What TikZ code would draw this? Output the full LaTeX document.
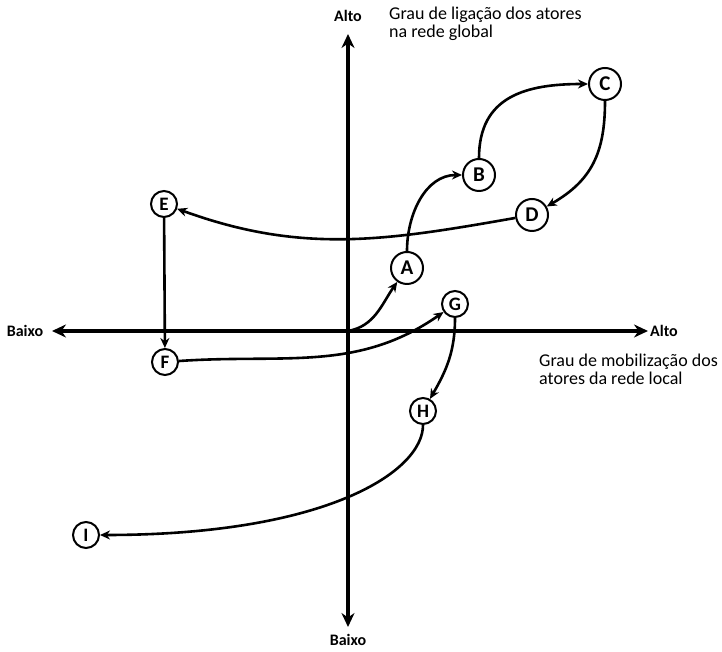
\documentclass[tikz,border=0pt]{standalone}
\usepackage{fontspec}
\setmainfont{Carlito}
\usetikzlibrary{positioning,arrows.meta}

\begin{document}
\begin{tikzpicture}[x=1pt,y=1pt,
  actor/.style={draw,circle,line width=2pt,fill=white,inner sep=0pt,minimum size=32pt,font=\fontsize{21}{21}\selectfont\bfseries},
  small/.style={actor,minimum size=26pt,font=\fontsize{19}{19}\selectfont\bfseries},
  axis/.style={line width=3.4pt,{Stealth[length=14pt,width=13pt]}-{Stealth[length=14pt,width=13pt]}},
  link/.style={line width=2.6pt,-{Stealth[length=10pt,width=9pt]}},
  axlbl/.style={font=\fontsize{16}{16}\selectfont\bfseries},
  lbl/.style={font=\fontsize{18}{18}\selectfont,align=left,anchor=north west,inner sep=0pt}]
\useasboundingbox (0,0) rectangle (722,652);
% axes
\coordinate (o) at (348,321);
\coordinate (top) at (348,618);
\coordinate (bot) at (348,25);
\coordinate (lft) at (52,321);
\coordinate (rgt) at (648,321);
\draw[axis] (bot) -- (top);
\draw[axis] (lft) -- (rgt);
\node[axlbl] (yhi) at (348,636) {Alto};
\node[axlbl] (ylo) at (348,12) {Baixo};
\node[axlbl] (xlo) at (25,321) {Baixo};
\node[axlbl] (xhi) at (664,321) {Alto};
\node[lbl] (ytxt) at (389,645) {Grau de ligação dos atores\\na rede global};
\node[lbl] (xtxt) at (539,298) {Grau de mobilização dos\\atores da rede local};
% actors
\node[actor] (a) at (407,384) {A};
\node[actor] (b) at (479,477) {B};
\node[actor] (c) at (605,568) {C};
\node[actor] (d) at (532,437) {D};
\node[small] (e) at (164,448) {E};
\node[small] (f) at (165,290) {F};
\node[small] (g) at (455,348) {G};
\node[small] (h) at (423,241) {H};
\node[small] (i) at (86,117) {I};
% path
\draw[link] (o) to[out=10,in=-125] (a);
\draw[link] (a) to[out=90,in=180] (b);
\draw[link] (b) to[out=90,in=180,looseness=1.2] (c);
\draw[link] (c) to[out=-90,in=30,looseness=1.1] (d);
\draw[link] (d) to[out=190,in=-20] (e);
\draw[link] (e) -- (f);
\draw[link] (f) to[out=4,in=-145] (g);
\draw[link] (g) to[out=-90,in=60] (h);
\draw[link] (h) to[out=-90,in=0,out looseness=0.35,in looseness=1.7] (i);
\end{tikzpicture}
\end{document}
